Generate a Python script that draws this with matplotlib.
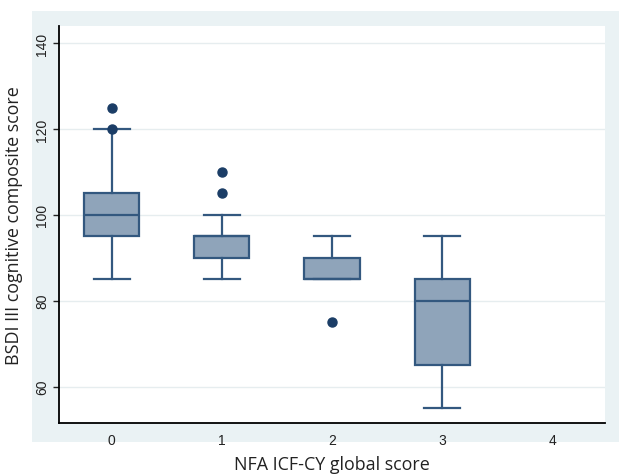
import matplotlib.pyplot as plt
from matplotlib.patches import Rectangle

# NFA ICF-CY global score groups
groups = [0, 1, 2, 3]
q1 = [95, 90, 85, 65]
med = [100, 95, 85, 80]
q3 = [105, 95, 90, 85]
whislo = [85, 85, 85, 55]
whishi = [120, 100, 95, 95]
outliers = [[120, 125], [105, 110], [75], []]

xticks = [0, 1, 2, 3, 4]
yticks = [60, 80, 100, 120, 140]

box_fill = "#8fa4ba"
line_col = "#33587f"
dot_col = "#1b3d66"

fig = plt.figure(figsize=(6.3, 4.77), dpi=100)
fig.patch.set_facecolor("white")
# Stata-like outer panel
fig.patches.append(Rectangle((32 / 630, 1 - 443 / 477), 587 / 630, 431 / 477,
                             transform=fig.transFigure, facecolor="#eaf2f4",
                             edgecolor="none", zorder=-5))

ax = fig.add_axes([59 / 630, 1 - 424 / 477, 546 / 630, 397 / 477])
ax.set_zorder(2)
ax.set_facecolor("white")

stats = []
for i in range(len(groups)):
    stats.append(dict(med=med[i], q1=q1[i], q3=q3[i], whislo=whislo[i],
                      whishi=whishi[i], fliers=outliers[i]))

ax.bxp(stats, positions=groups, widths=0.5, patch_artist=True,
       boxprops=dict(facecolor=box_fill, edgecolor=line_col, linewidth=1.6),
       medianprops=dict(color=line_col, linewidth=1.6),
       whiskerprops=dict(color=line_col, linewidth=1.6),
       capprops=dict(color=line_col, linewidth=1.6),
       capwidths=0.33,
       flierprops=dict(marker="o", markersize=6.5, markerfacecolor=dot_col,
                       markeredgecolor=dot_col))

ax.set_xlim(-0.48, 4.48)
ax.set_ylim(51.5, 144)
ax.set_xticks(xticks)
ax.set_xticklabels([str(x) for x in xticks])
ax.set_yticks(yticks)
ax.set_yticklabels([str(y) for y in yticks], rotation=90, va="center")
ax.grid(axis="y", color="#e6edef", linewidth=1)
ax.set_axisbelow(True)

for s in ["top", "right"]:
    ax.spines[s].set_visible(False)
for s in ["left", "bottom"]:
    ax.spines[s].set_color("black")
    ax.spines[s].set_linewidth(1.3)

ax.tick_params(axis="both", labelsize=10, width=1, colors="#222222")
ax.tick_params(axis="y", length=4, pad=3)
ax.tick_params(axis="x", length=0, pad=7)
for lab in ax.get_xticklabels() + ax.get_yticklabels():
    lab.set_family("Liberation Sans")

ax.set_xlabel("NFA ICF-CY global score", fontsize=12.9, family="Open Sans",
              labelpad=6, color="#222222")
ax.set_ylabel("BSDI III cognitive composite score", fontsize=12.9,
              family="Open Sans", labelpad=9, color="#222222")

plt.savefig("out.png", dpi=100)
